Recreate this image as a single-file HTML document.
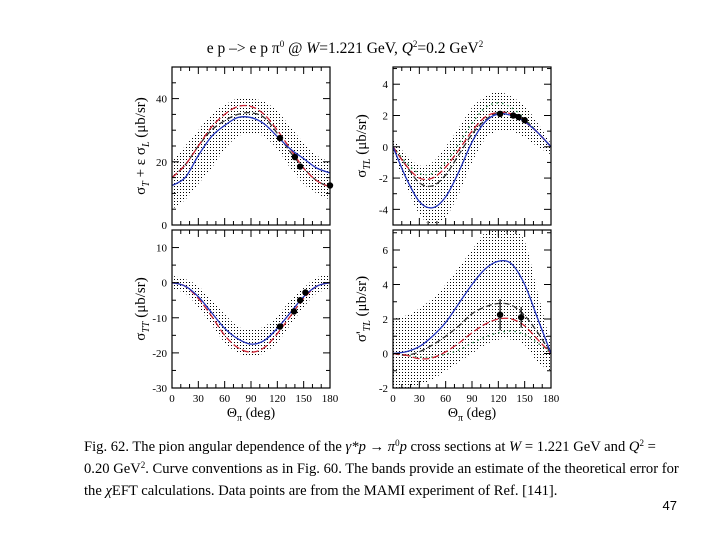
<!DOCTYPE html>
<html><head><meta charset="utf-8"><style>
body{margin:0;background:#fff;width:720px;height:540px;overflow:hidden;font-family:"Liberation Serif",serif}
svg{position:absolute;left:0;top:0}
</style></head><body>
<svg id="chart" width="720" height="540" xmlns="http://www.w3.org/2000/svg" font-family="Liberation Serif, serif">
<defs>
<pattern id="dots" width="3" height="3" patternUnits="userSpaceOnUse"><rect x="0" y="0" width="1" height="1" fill="#000"/></pattern>
</defs>
<text x="345" y="53" text-anchor="middle" font-size="15.5">e p –&gt; e p π<tspan dy="-6" font-size="9">0</tspan><tspan dy="6"> @ </tspan><tspan font-style="italic">W</tspan>=1.221 GeV, <tspan font-style="italic">Q</tspan><tspan dy="-6" font-size="9">2</tspan><tspan dy="6">=0.2 GeV</tspan><tspan dy="-6" font-size="9">2</tspan></text>
<g id="panels"></g>
<g font-size="14.6">
<text x="84" y="451">Fig. 62. The pion angular dependence of the <tspan font-style="italic">γ*p</tspan> → <tspan font-style="italic">π</tspan><tspan dy="-5" font-size="9">0</tspan><tspan dy="5" font-style="italic">p</tspan> cross sections at <tspan font-style="italic">W</tspan> = 1.221 GeV and <tspan font-style="italic">Q</tspan><tspan dy="-5" font-size="9">2</tspan><tspan dy="5"> =</tspan></text>
<text x="84" y="473">0.20 GeV<tspan dy="-5" font-size="9">2</tspan><tspan dy="5">. Curve conventions as in Fig. 60. The bands provide an estimate of the theoretical error for</tspan></text>
<text x="84" y="495">the <tspan font-style="italic">χ</tspan>EFT calculations. Data points are from the MAMI experiment of Ref. [141].</text>
</g>
<text x="677" y="510" text-anchor="end" font-size="13" font-family="Liberation Sans, sans-serif">47</text>
</svg>
<script>
const angles=[0,15,30,45,60,75,90,105,120,135,150,165,180];
// Panel 1: sigma_T + eps sigma_L
const p1Blue=[12.5,15,22,28,31.5,34,34,32,28,24,21,18,16.5];
const p1Red=[15,19,25,31,35,37.5,37.5,35,30,24,18,14,12];
const p1Black=[15,19,25,30,33,35,35.5,34,29,23,18,14,12];
const p1BandHi=[20,25,30,35,38,40,40,39,36,31,26,22,20];
const p1BandLo=[5,8,13,18,24,28,29,28,24,18,13,10,8];
const p1PtX=[123,140,146,180];
const p1PtY=[27.5,21.5,18.5,12.5];
const p1PtErr=[0.8,0.8,0.8,0.8];
// Panel 2: sigma_TL
const p2Blue=[0,-2,-3.5,-3.9,-3.2,-1.6,0.3,1.6,2.1,2,1.6,0.9,0];
const p2Red=[0,-1.2,-2,-2,-1.3,-0.2,1,1.9,2.2,2.1,1.6,0.9,0];
const p2Green=[0,-1,-1.7,-1.7,-1,0.2,1.5,2.5,2.8,2.5,1.8,0.9,0];
const p2Black=[0,-1.2,-2.3,-2.5,-1.8,-0.5,0.8,1.7,2.2,2.1,1.7,0.9,0];
const p2BandHi=[0.5,-0.5,-1.2,-1,0,1.2,2.5,3.2,3.5,3.2,2.6,1.5,0.2];
const p2BandLo=[-0.5,-2.5,-4.3,-5,-4.5,-3,-1,0.5,1,1,0.6,0,-0.5];
const p2PtX=[122,137,143,150];
const p2PtY=[2.1,2.0,1.9,1.7];
const p2PtErr=[0.2,0.15,0.15,0.15];
// Panel 3: sigma_TT
const p3Blue=[0,-1,-4,-8.5,-13,-16,-17.5,-16.5,-13,-8.5,-4,-1,0];
const p3Red=[0,-1,-4.5,-9.5,-15,-18.5,-19.8,-18.5,-14.5,-9.5,-4.5,-1,0];
const p3BandHi=[2,1,-1,-5,-9,-12.5,-13.5,-12.5,-9.5,-5,-1.5,1.5,2];
const p3BandLo=[-2,-3,-7,-12,-17,-20,-21,-20,-17,-12,-7,-3,-2];
const p3PtX=[123,139,146,152];
const p3PtY=[-12.5,-8.2,-5,-2.8];
const p3PtErr=[0.8,0.8,0.6,0.6];
// Panel 4: sigma'_TL
const p4Blue=[0,0.1,0.4,1,1.8,2.9,4,4.9,5.35,5.2,4,2,0];
const p4Red=[0,-0.1,-0.3,-0.25,0.1,0.6,1.2,1.7,2,2,1.6,0.8,0];
const p4Black=[0,-0.1,0.1,0.5,1,1.6,2.3,2.7,2.9,2.8,2.2,1.2,0];
const p4Green=[0,-0.1,-0.2,-0.2,-0.05,0.2,0.6,0.95,1.2,1.3,1.1,0.6,0];
const p4BandHi=[2,2.2,2.6,3.2,4,5,6,7,7.2,7.2,6.5,3.5,0.5];
const p4BandLo=[-2,-2,-1.8,-1.5,-1,-0.5,0,0.5,0.8,0.8,0.5,-0.5,-1];
const p4PtX=[122,146];
const p4PtY=[2.25,2.1];
const p4PtErr=[0.9,0.6];

const xTicks=[0,30,60,90,120,150,180];
const ns="http://www.w3.org/2000/svg";
const root=document.getElementById('panels');
function mk(t,a,p){const e=document.createElementNS(ns,t);for(const k in a)e.setAttribute(k,a[k]);(p||root).appendChild(e);return e;}
function smooth(pts){let d='M'+pts[0][0]+','+pts[0][1];for(let i=0;i<pts.length-1;i++){const p0=pts[i-1]||pts[i],p1=pts[i],p2=pts[i+1],p3=pts[i+2]||p2;d+=' C'+(p1[0]+(p2[0]-p0[0])/6)+','+(p1[1]+(p2[1]-p0[1])/6)+' '+(p2[0]-(p3[0]-p1[0])/6)+','+(p2[1]-(p3[1]-p1[1])/6)+' '+p2[0]+','+p2[1];}return d;}
function panel(cfg){
 const {x0,y0,w,h,ymin,ymax,yMajor,yMinor,yLabels,name,showX}=cfg;
 const X=v=>x0+v/180*w, Y=v=>y0+h-(v-ymin)/(ymax-ymin)*h;
 const g=mk('g',{});
 
 
 const cid='clip'+name;
 const cp=mk('clipPath',{id:cid},g);mk('rect',{x:x0,y:y0,width:w,height:h},cp);
 const inner=mk('g',{'clip-path':'url(#'+cid+')'},g);
 const up=angles.map((a,i)=>[X(a),Y(cfg.bandHi[i])]);
 const lo=angles.map((a,i)=>[X(a),Y(cfg.bandLo[i])]).reverse();
 let d=smooth(up)+' L'+lo[0][0]+','+lo[0][1]+smooth(lo).slice(1).replace(/^[^C]*/,'')+' Z';
 const band=mk('path',{d:d,fill:'url(#dots)',stroke:'none'},inner);
 
 
 cfg.series.forEach(s=>{
  const p=mk('path',{d:smooth(angles.map((a,i)=>[X(a),Y(s.v[i])])),fill:'none',stroke:s.c,'stroke-width':1.3,'stroke-dasharray':s.da||''},inner);
  
  
 });
 cfg.px.forEach((a,i)=>{
  const e=mk('line',{x1:X(a),x2:X(a),y1:Y(cfg.py[i]+cfg.pe[i]),y2:Y(cfg.py[i]-cfg.pe[i]),stroke:'#000','stroke-width':1.2},g);
  
  
  const c=mk('circle',{cx:X(a),cy:Y(cfg.py[i]),r:3.2,fill:'#000'},g);
  
  
 });
 mk('rect',{x:x0,y:y0,width:w,height:h,fill:'none',stroke:'#000','stroke-width':1.2},g);
 for(let a=0;a<=180;a+=10){const L=(a%30==0)?7:4;mk('line',{x1:X(a),x2:X(a),y1:y0+h,y2:y0+h-L,stroke:'#000'},g);mk('line',{x1:X(a),x2:X(a),y1:y0,y2:y0+L,stroke:'#000'},g);}
 for(let v=ymin;v<=ymax+1e-6;v+=yMinor){const maj=Math.abs(v/yMajor-Math.round(v/yMajor))<1e-6;const L=maj?7:4;mk('line',{x1:x0,x2:x0+L,y1:Y(v),y2:Y(v),stroke:'#000'},g);mk('line',{x1:x0+w,x2:x0+w-L,y1:Y(v),y2:Y(v),stroke:'#000'},g);}
 yLabels.forEach(v=>{const t=mk('text',{x:x0-5,y:Y(v)+4,'text-anchor':'end','font-size':11},g);t.textContent=v;});
 if(showX){xTicks.forEach(v=>{const t=mk('text',{x:X(v),y:y0+h+14,'text-anchor':'middle','font-size':11},g);t.textContent=v;});
  const t=mk('text',{x:x0+w/2,y:y0+h+29,'text-anchor':'middle','font-size':14},g);t.innerHTML='Θ<tspan dy="4" font-size="10">π</tspan><tspan dy="-4"> (deg)</tspan>';}
 const yt=mk('text',{transform:'translate('+(x0-27)+','+(y0+h/2)+') rotate(-90)','text-anchor':'middle','font-size':15},g);
 yt.innerHTML=cfg.ytitle;
 
 
}
const BL='#2233bb',RD='#cc2233',GR='#228844',BK='#333';
panel({name:'panel-sigma-t-l',x0:172,y0:67,w:158,h:158,ymin:0,ymax:50,yMajor:20,yMinor:5,yLabels:[0,20,40],showX:false,
 ytitle:'σ<tspan dy="4" font-size="10" font-style="italic">T</tspan><tspan dy="-4"> + ε σ</tspan><tspan dy="4" font-size="10" font-style="italic">L</tspan><tspan dy="-4"> (μb/sr)</tspan>',
 bandHi:p1BandHi,bandLo:p1BandLo,series:[{v:p1Black,c:BK,da:'6,3',n:'curve-black-dashed'},{v:p1Red,c:RD,da:'7,3',n:'curve-red-dashed'},{v:p1Blue,c:BL,n:'curve-blue-solid'}],px:p1PtX,py:p1PtY,pe:p1PtErr});
panel({name:'panel-sigma-tl',x0:393,y0:67,w:158,h:158,ymin:-5,ymax:5.1,yMajor:2,yMinor:1,yLabels:[-4,-2,0,2,4],showX:false,
 ytitle:'σ<tspan dy="4" font-size="10" font-style="italic">TL</tspan><tspan dy="-4">  (μb/sr)</tspan>',
 bandHi:p2BandHi,bandLo:p2BandLo,series:[{v:p2Green,c:GR,da:'1.5,4',n:'curve-green-dotted'},{v:p2Black,c:BK,da:'6,3',n:'curve-black-dashed'},{v:p2Red,c:RD,da:'7,3',n:'curve-red-dashed'},{v:p2Blue,c:BL,n:'curve-blue-solid'}],px:p2PtX,py:p2PtY,pe:p2PtErr});
panel({name:'panel-sigma-tt',x0:172,y0:230,w:158,h:158,ymin:-30,ymax:15,yMajor:10,yMinor:5,yLabels:[-30,-20,-10,0,10],showX:true,
 ytitle:'σ<tspan dy="4" font-size="10" font-style="italic">TT</tspan><tspan dy="-4">  (μb/sr)</tspan>',
 bandHi:p3BandHi,bandLo:p3BandLo,series:[{v:p3Red,c:RD,da:'7,3',n:'curve-red-dashed'},{v:p3Blue,c:BL,n:'curve-blue-solid'}],px:p3PtX,py:p3PtY,pe:p3PtErr});
panel({name:'panel-sigma-tl-prime',x0:393,y0:230,w:158,h:158,ymin:-2,ymax:7.16,yMajor:2,yMinor:1,yLabels:[-2,0,2,4,6],showX:true,
 ytitle:'σ\'<tspan dy="4" font-size="10" font-style="italic">TL</tspan><tspan dy="-4">  (μb/sr)</tspan>',
 bandHi:p4BandHi,bandLo:p4BandLo,series:[{v:p4Green,c:GR,da:'1.5,4',n:'curve-green-dotted'},{v:p4Black,c:BK,da:'6,3',n:'curve-black-dashed'},{v:p4Red,c:RD,da:'7,3',n:'curve-red-dashed'},{v:p4Blue,c:BL,n:'curve-blue-solid'}],px:p4PtX,py:p4PtY,pe:p4PtErr});
</script>
</body></html>
